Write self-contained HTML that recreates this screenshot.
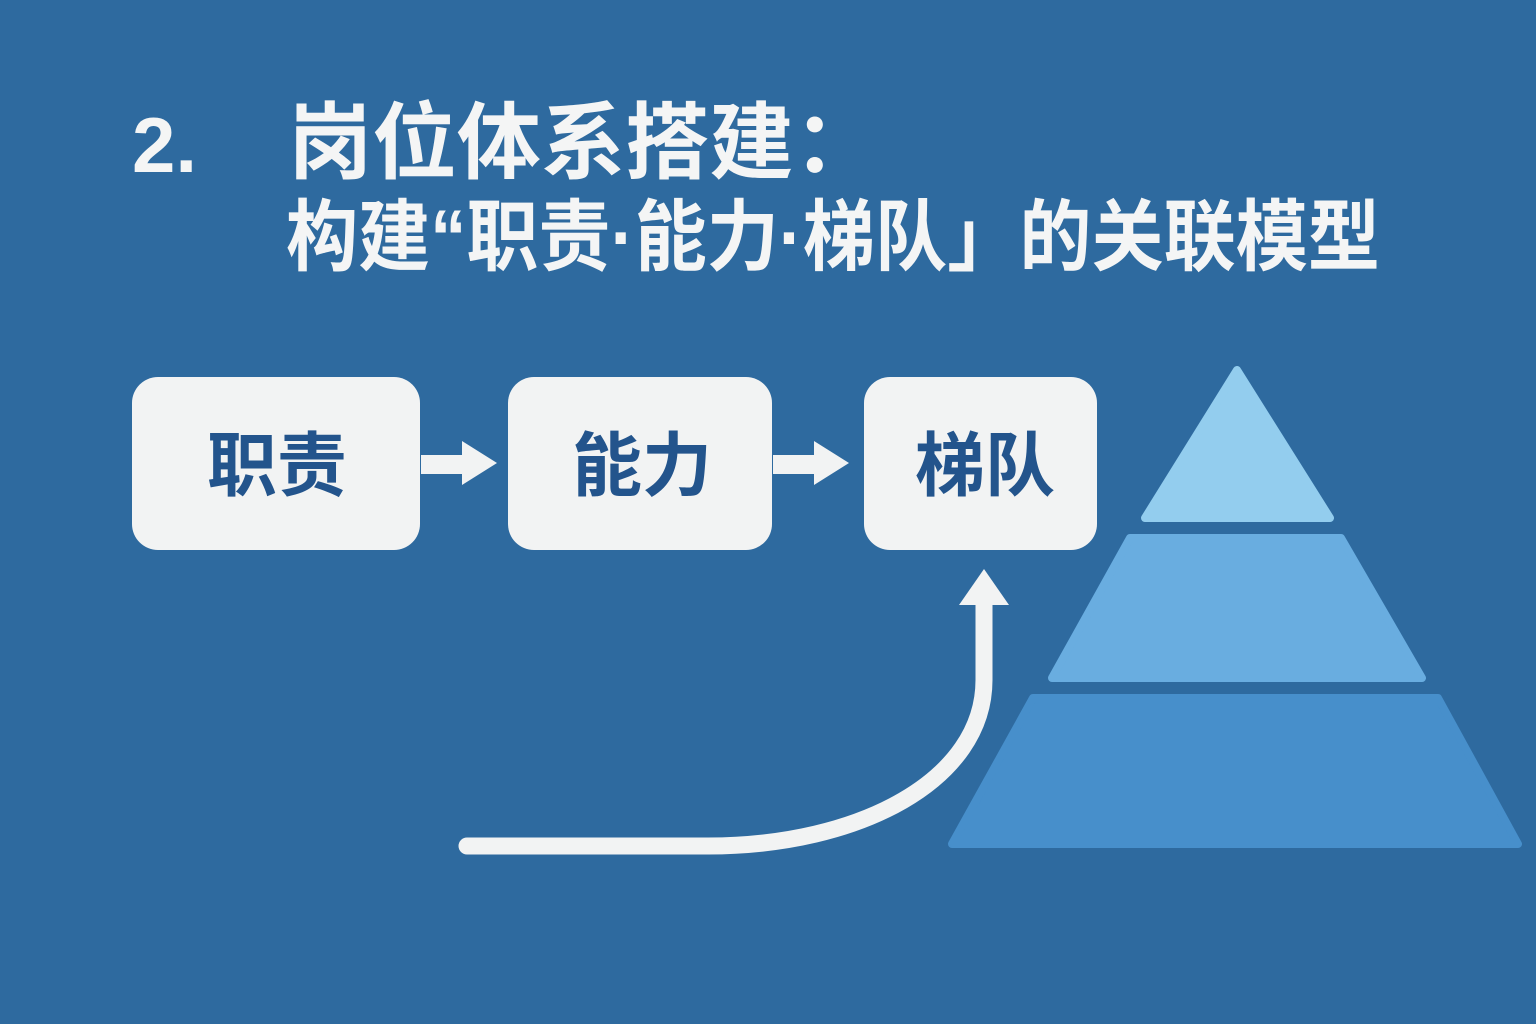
<!DOCTYPE html>
<html><head><meta charset="utf-8"><style>
html,body{margin:0;padding:0;background:#2e6a9f;}
svg{display:block}
</style></head><body>
<svg width="1536" height="1024" viewBox="0 0 1536 1024" xmlns="http://www.w3.org/2000/svg">
<rect width="1536" height="1024" fill="#2e6a9f"/>
<g font-family="'Liberation Sans','Noto Sans CJK SC',sans-serif" font-weight="bold" fill="#f4f5f5">
<text x="132" y="172" font-size="78">2.</text>
<text x="288" y="172" font-size="84" textLength="590" lengthAdjust="spacingAndGlyphs">岗位体系搭建：</text>
<text x="286" y="264" font-size="78" textLength="1094" lengthAdjust="spacingAndGlyphs">构建“职责·能力·梯队」的关联模型</text>
</g>
<g fill="#f2f3f3">
<rect x="132" y="377" width="288" height="173" rx="26"/>
<rect x="508" y="377" width="264" height="173" rx="26"/>
<rect x="864" y="377" width="233" height="173" rx="26"/>
</g>
<g font-family="'Liberation Sans','Noto Sans CJK SC',sans-serif" font-weight="bold" fill="#23548c" font-size="70" text-anchor="middle">
<text x="277" y="490">职责</text>
<text x="642" y="490">能力</text>
<text x="985" y="490">梯队</text>
</g>
<g fill="#f2f3f3">
<polygon points="421,455 462,455 462,441 497,463 462,485 462,474 421,474"/>
<polygon points="773,455 814,455 814,441 849,463 814,485 814,474 773,474"/>
<polygon points="984,569 1009,605 959,605"/>
</g>
<path d="M467,846 L708,846 C860,846 984,780 984,680 L984,600" fill="none" stroke="#f2f3f3" stroke-width="17" stroke-linecap="round"/>
<g stroke-linejoin="round" stroke-width="8">
<polygon points="1237,370 1330,518 1145,518" fill="#93cdee" stroke="#93cdee"/>
<polygon points="1130,538 1341,538 1422,678 1052,678" fill="#69ade0" stroke="#69ade0"/>
<polygon points="1033,698 1438,698 1518,844 952,844" fill="#478fcb" stroke="#478fcb"/>
</g>
</svg>
</body></html>
